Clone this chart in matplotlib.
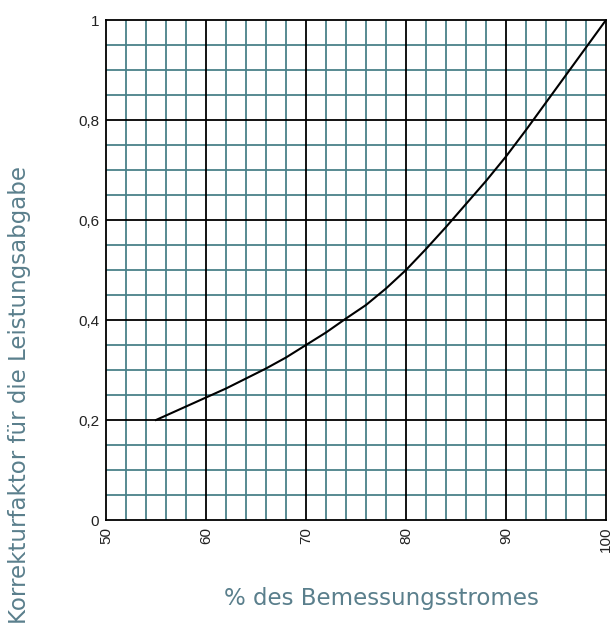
import numpy as np
import matplotlib.pyplot as plt

# curve
strom = [55, 56, 58, 60, 62, 64, 66, 68, 70, 72, 74, 76, 78, 80,
         82, 84, 86, 88, 90, 92, 94, 96, 98, 100]
faktor = [0.2, 0.209, 0.227, 0.245, 0.263, 0.283, 0.303, 0.325, 0.35, 0.375, 0.403, 0.43, 0.463, 0.5,
          0.542, 0.586, 0.632, 0.678, 0.727, 0.78, 0.835, 0.89, 0.945, 1.0]

x_ticks = [50, 60, 70, 80, 90, 100]
y_ticks = [0, 0.2, 0.4, 0.6, 0.8, 1.0]
y_labels = ['0', '0,2', '0,4', '0,6', '0,8', '1']

label_color = '#5a7f8c'
grid_color = '#4a8189'

W, H = 613, 632
fig = plt.figure(figsize=(W / 100, H / 100), dpi=100)
ax = fig.add_axes([106 / W, (H - 520) / H, 500 / W, 500 / H])

# minor grid first, then major on top
for x in np.arange(52, 100, 2):
    if x % 10:
        ax.axvline(x, color=grid_color, linewidth=1.3, zorder=1)
for y in np.arange(0.05, 1.0, 0.05):
    if round(y * 100) % 20:
        ax.axhline(y, color=grid_color, linewidth=1.3, zorder=1)
for x in x_ticks[1:-1]:
    ax.axvline(x, color='black', linewidth=1.3, zorder=2)
for y in y_ticks[1:-1]:
    ax.axhline(y, color='black', linewidth=1.3, zorder=2)

ax.plot(strom, faktor, color='black', linewidth=1.5, zorder=3)

ax.set_xlim(50, 100)
ax.set_ylim(0, 1)
ax.set_xticks(x_ticks)
ax.set_xticklabels([str(v) for v in x_ticks], rotation=90, fontsize=11,
                   family='Liberation Sans', color='#222222')
ax.set_yticks(y_ticks)
ax.set_yticklabels(y_labels, fontsize=11, family='Liberation Sans', color='#222222')
ax.tick_params(length=0, pad=5)
for s in ax.spines.values():
    s.set_linewidth(1.3)
    s.set_color('black')
    s.set_zorder(4)

fig.text(381 / W, 1 - 598 / H, '% des Bemessungsstromes', ha='center', va='center',
         fontsize=16.5, family='DejaVu Sans', color=label_color)
fig.text(20 / W, 1 - 395 / H, 'Korrekturfaktor für die Leistungsabgabe', ha='center',
         va='center', rotation=90, fontsize=16.5, family='DejaVu Sans', color=label_color)

fig.savefig('out.png', dpi=100)
